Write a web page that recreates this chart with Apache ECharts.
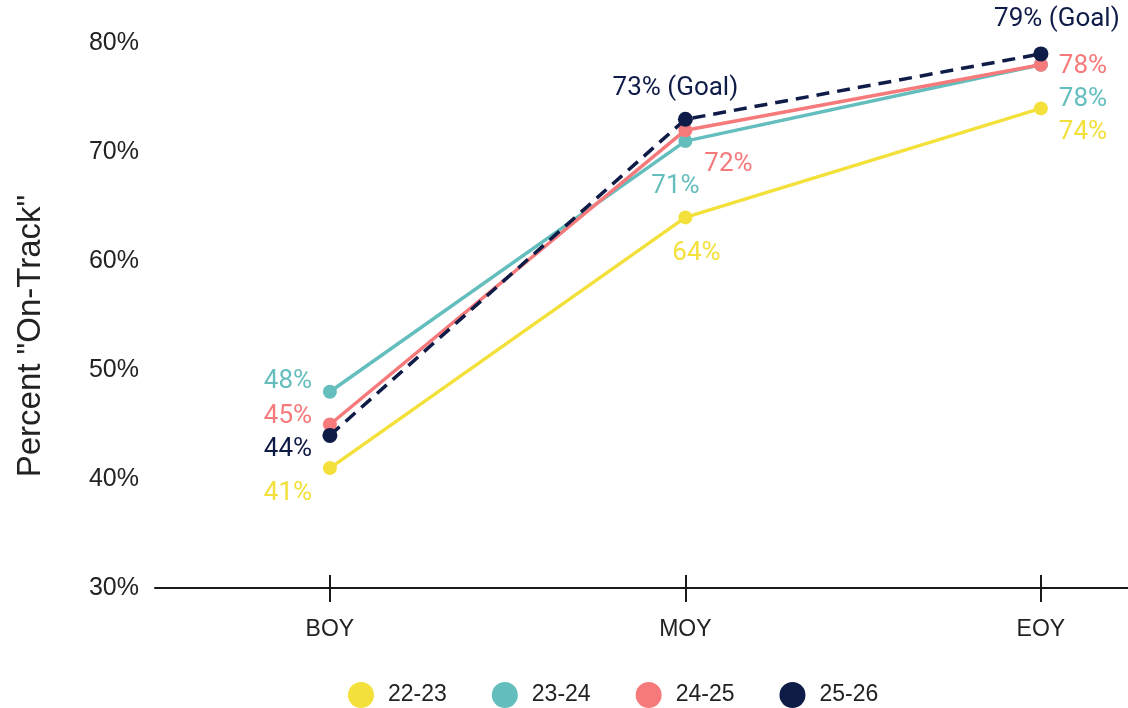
<!DOCTYPE html>
<html>
<head>
<meta charset="utf-8">
<script src="https://cdn.jsdelivr.net/npm/echarts@6/dist/echarts.min.js"></script>
<style>
  html, body { margin: 0; padding: 0; background: #ffffff; }
  #chart { width: 1128px; height: 708px; }
</style>
</head>
<body>
<div id="chart"></div>
<script>
// Checkpoints across the school year
const categories = ['BOY', 'MOY', 'EOY'];

// Percent of students "On-Track" per school year
const years = ['22-23', '23-24', '24-25', '25-26'];
const values2223 = [41, 64, 74];
const values2324 = [48, 71, 78];
const values2425 = [45, 72, 78];
const values2526 = [44, 73, 79];

// Goal targets are the 25-26 values at MOY and EOY
const goalSuffix = [null, ' (Goal)', ' (Goal)'];

const yTicks = [30, 40, 50, 60, 70, 80];

// Colors and label placement (pixel offsets from each point)
const colors = ['#F3E03B', '#63BEBD', '#F67A7B', '#101C48'];
const labelOffsets = [
  [[-42, 25], [11, 36], [42, 24]],
  [[-42, -10], [-10, 45], [42, 35]],
  [[-42, -8], [43, 34], [42, 2]],
  [[-42, 14], [-10, -31], [16, -34]]
];

const seriesValues = [values2223, values2324, values2425, values2526];

const chart = echarts.init(document.getElementById('chart'), null, { renderer: 'canvas' });

const axisFont = 'Liberation Sans, Arial, sans-serif';
const labelFont = 'Roboto, sans-serif';

const series = seriesValues.map(function (vals, si) {
  return {
    name: years[si],
    type: 'line',
    xAxisIndex: 0,
    yAxisIndex: 0,
    data: vals.map(function (v, i) {
      const suffix = si === 3 && goalSuffix[i] ? goalSuffix[i] : '';
      return {
        value: [i, v],
        label: {
          show: true,
          position: 'inside',
          offset: labelOffsets[si][i],
          formatter: v + '%' + suffix
        }
      };
    }),
    symbol: 'circle',
    symbolSize: si === 3 ? 15 : 14,
    lineStyle: {
      color: colors[si],
      width: 3.5,
      type: si === 3 ? [13, 8] : 'solid'
    },
    itemStyle: { color: colors[si] },
    label: {
      color: colors[si],
      fontFamily: labelFont,
      fontSize: 26
    },
    emphasis: { disabled: true },
    z: 2 + si,
    animation: false
  };
});

chart.setOption({
  animation: false,
  grid: { left: 155, right: 0, top: 43, bottom: 120 },
  xAxis: [
    {
      type: 'value',
      min: -0.492,
      max: 2.245,
      position: 'bottom',
      splitLine: { show: false },
      axisLine: { show: true, lineStyle: { color: '#1a1a1a', width: 2 } },
      axisTick: {
        show: true,
        customValues: [0, 1, 2],
        length: 14,
        lineStyle: { color: '#1a1a1a', width: 2 }
      },
      axisLabel: {
        customValues: [0, 1, 2],
        formatter: function (v) { return categories[Math.round(v)]; },
        color: '#222222',
        fontFamily: axisFont,
        fontSize: 23,
        margin: 30
      }
    },
    {
      type: 'value',
      min: -0.492,
      max: 2.245,
      position: 'bottom',
      splitLine: { show: false },
      axisLine: { show: false },
      axisTick: {
        show: true,
        inside: true,
        customValues: [0, 1, 2],
        length: 13,
        lineStyle: { color: '#1a1a1a', width: 2 }
      },
      axisLabel: { show: false }
    }
  ],
  yAxis: {
    type: 'value',
    min: yTicks[0],
    max: yTicks[yTicks.length - 1],
    interval: 10,
    splitLine: { show: false },
    axisLine: { show: false },
    axisTick: { show: false },
    axisLabel: {
      formatter: '{value}%',
      color: '#222222',
      fontFamily: axisFont,
      fontSize: 25,
      margin: 16
    }
  },
  legend: {
    data: years,
    left: 343,
    top: 677,
    icon: 'circle',
    itemWidth: 44,
    itemHeight: 26,
    itemGap: 45,
    textStyle: {
      color: '#222222',
      fontFamily: axisFont,
      fontSize: 23
    },
    selectedMode: false
  },
  graphic: [
    {
      type: 'text',
      x: 31,
      y: 336,
      rotation: Math.PI / 2,
      style: {
        text: 'Percent "On-Track"',
        fill: '#222222',
        font: '33px ' + axisFont,
        align: 'center',
        verticalAlign: 'middle'
      }
    }
  ],
  series: series
});
</script>
</body>
</html>
